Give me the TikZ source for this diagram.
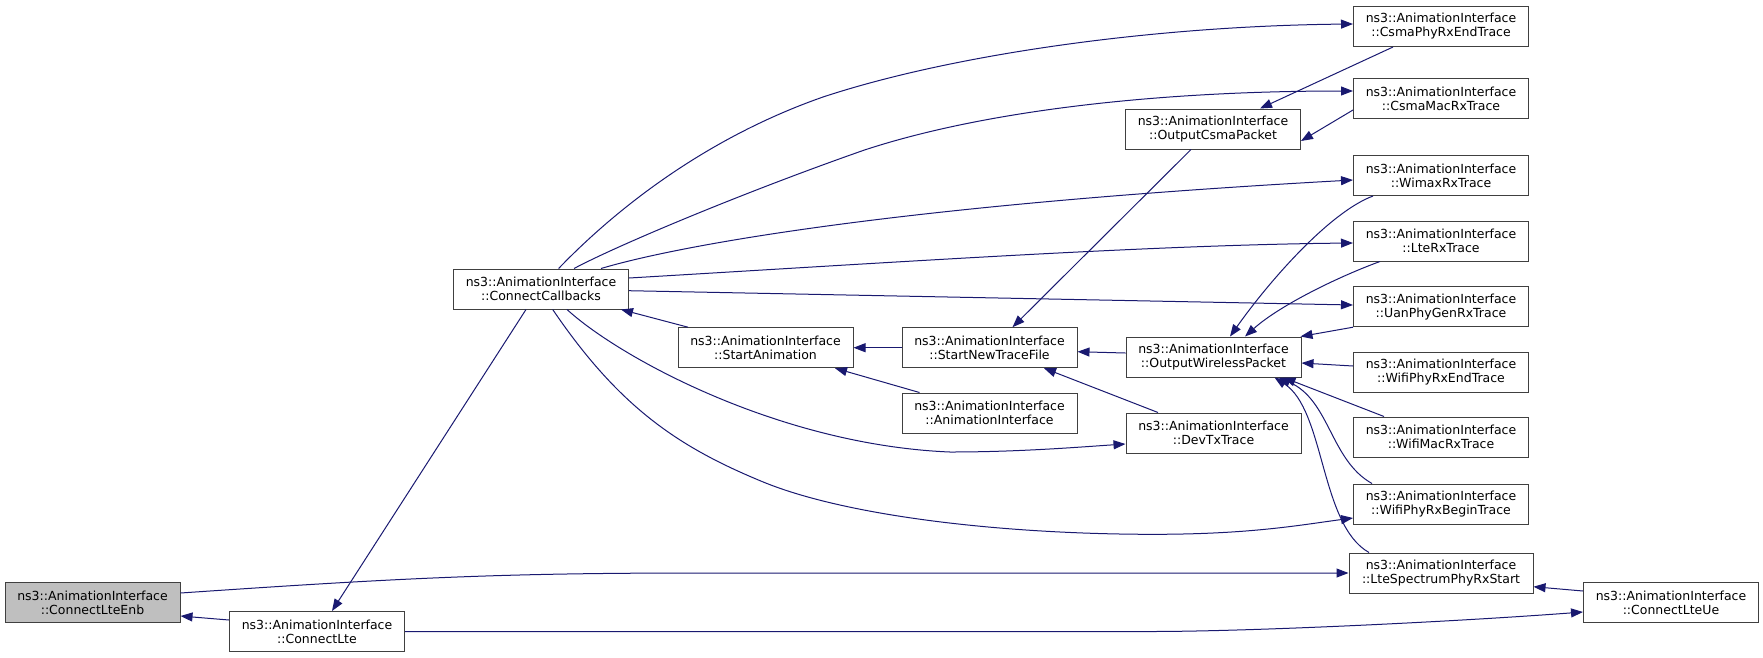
\documentclass[tikz,border=0pt]{standalone}
\usepackage{fontspec}
\setmainfont{DejaVu Sans}
\usepackage{xcolor}
\usetikzlibrary{positioning, arrows.meta}
\definecolor{edgeblue}{HTML}{191970}

\begin{document}
\begin{tikzpicture}[
    x=1pt, y=-1pt,
    fn/.style={rectangle, draw=black!75, line width=1pt, fill=white, minimum width=175pt, minimum height=40pt, inner sep=2pt, align=center, font=\fontsize{12.5}{14}\selectfont},
    root/.style={fn, fill=black!25},
    call/.style={-{Triangle[length=12pt, width=9pt]}, draw=edgeblue, line width=1pt}
]
    \useasboundingbox (0,0) rectangle (1763,657);

    % Left side
    \node[root] (enb) at (92.5,602.5) {ns3::AnimationInterface\\::ConnectLteEnb};
    \node[fn] (lte) at (317,631.5) {ns3::AnimationInterface\\::ConnectLte};
    \node[fn] (callbacks) at (541,289) {ns3::AnimationInterface\\::ConnectCallbacks};
    \node[fn] (startanim) at (765.5,347.7) {ns3::AnimationInterface\\::StartAnimation};

    % Middle
    \node[fn] (newtrace) at (989.5,347.7) {ns3::AnimationInterface\\::StartNewTraceFile};
    \node[fn] (animiface) at (989.5,413) {ns3::AnimationInterface\\::AnimationInterface};
    \node[fn] (outcsma) at (1213,129) {ns3::AnimationInterface\\::OutputCsmaPacket};
    \node[fn] (outwireless) at (1213.5,357) {ns3::AnimationInterface\\::OutputWirelessPacket};
    \node[fn] (devtx) at (1213.5,433) {ns3::AnimationInterface\\::DevTxTrace};

    % Trace callbacks - right column
    \node[fn] (csmaphy) at (1441,26.5) {ns3::AnimationInterface\\::CsmaPhyRxEndTrace};
    \node[fn] (csmamac) at (1441,98.5) {ns3::AnimationInterface\\::CsmaMacRxTrace};
    \node[fn] (wimax) at (1441,175.5) {ns3::AnimationInterface\\::WimaxRxTrace};
    \node[fn] (lterx) at (1441,241) {ns3::AnimationInterface\\::LteRxTrace};
    \node[fn] (uan) at (1441,306.7) {ns3::AnimationInterface\\::UanPhyGenRxTrace};
    \node[fn] (wifiphyend) at (1441,372) {ns3::AnimationInterface\\::WifiPhyRxEndTrace};
    \node[fn] (wifimac) at (1441,437) {ns3::AnimationInterface\\::WifiMacRxTrace};
    \node[fn] (wifibegin) at (1441,504) {ns3::AnimationInterface\\::WifiPhyRxBeginTrace};
    \node[fn, minimum width=184pt] (ltespec) at (1441,573) {ns3::AnimationInterface\\::LteSpectrumPhyRxStart};
    \node[fn] (lteue) at (1671,602.5) {ns3::AnimationInterface\\::ConnectLteUe};

    % Edges from the left
    \draw[call] ([yshift=11.5pt]lte.west) -- ([yshift=-13.5pt]enb.east);
    \draw[call] ([yshift=9.5pt]enb.east) .. controls (400,578) and (500,573) .. (700,573) -- (ltespec.west);
    \draw[call] ([xshift=-15pt]callbacks.south) -- ([xshift=15pt]lte.north);
    \draw[call] (lte.east) -- (1150,631.5) .. controls (1250,631.5) and (1450,622) .. ([yshift=-9.5pt]lteue.west);
    \draw[call] ([yshift=11.5pt]lteue.west) -- ([yshift=-13.7pt]ltespec.east);

    % ConnectCallbacks fan out
    \draw[call] ([xshift=17.6pt]callbacks.north) .. controls (610,215) and (700,140) .. (823,97)
        .. controls (950,55) and (1150,26) .. ([yshift=2.5pt]csmaphy.west);
    \draw[call] ([xshift=33pt]callbacks.north) .. controls (620,244) and (750,190) .. (864.5,150)
        .. controls (980,112) and (1150,91) .. ([yshift=7.5pt]csmamac.west);
    \draw[call] ([xshift=60pt]callbacks.north) .. controls (680,245) and (900,205) .. ([yshift=-4.5pt]wimax.west);
    \draw[call] ([yshift=11pt]callbacks.east) .. controls (900,262) and (1150,245) .. ([yshift=-2pt]lterx.west);
    \draw[call] ([yshift=-1.7pt]callbacks.east) -- ([yshift=1.7pt]uan.west);
    \draw[call] ([xshift=26pt]callbacks.south) .. controls (620,358) and (780,445) .. (950,452)
        .. controls (1020,452) and (1080,447) .. ([yshift=-11pt]devtx.west);
    \draw[call] ([xshift=11.7pt]callbacks.south) .. controls (620,408.6) and (679.7,447.5) .. (762.5,481.7)
        .. controls (845.3,515.9) and (1000,534) .. (1150,534.3)
        .. controls (1250,534.5) and (1300,525) .. ([yshift=-14pt]wifibegin.west);
    \draw[call] ([xshift=-77.5pt]startanim.north) -- ([xshift=-8pt]callbacks.south east);

    % StartNewTraceFile and StartAnimation
    \draw[call] (newtrace.west) -- (startanim.east);
    \draw[call] ([xshift=-70pt]animiface.north) -- ([xshift=69.5pt]startanim.south);
    \draw[call] ([xshift=-22pt]outcsma.south) -- ([xshift=23pt]newtrace.north);
    \draw[call] ([yshift=4pt]outwireless.west) -- ([yshift=-4pt]newtrace.east);
    \draw[call] ([xshift=-55.5pt]devtx.north) -- ([xshift=54.5pt]newtrace.south);

    % Csma packet
    \draw[call] ([xshift=-48pt]csmaphy.south) -- ([xshift=47pt]outcsma.north);
    \draw[call] ([yshift=-11.5pt]csmamac.west) -- ([yshift=-12pt]outcsma.east);

    % Wireless packet
    \draw[call] ([xshift=-68pt]wimax.south) .. controls (1330,212) and (1270,280) .. ([xshift=16.5pt]outwireless.north);
    \draw[call] ([xshift=-61pt]lterx.south) .. controls (1340,276) and (1280,305) .. ([xshift=31.5pt]outwireless.north);
    \draw[call] (uan.south west) -- ([xshift=-1pt]outwireless.north east);
    \draw[call] ([yshift=6pt]wifiphyend.west) -- ([yshift=-6pt]outwireless.east);
    \draw[call] ([xshift=-57pt]wifimac.north) -- ([xshift=-18pt]outwireless.south east);
    \draw[call] ([xshift=-69pt]wifibegin.north) .. controls (1330,460) and (1330,400) .. ([xshift=-23pt]outwireless.south east);
    \draw[call] ([xshift=-72pt]ltespec.north) .. controls (1320,525) and (1325,410) .. ([xshift=-27pt]outwireless.south east);

\end{tikzpicture}
\end{document}
